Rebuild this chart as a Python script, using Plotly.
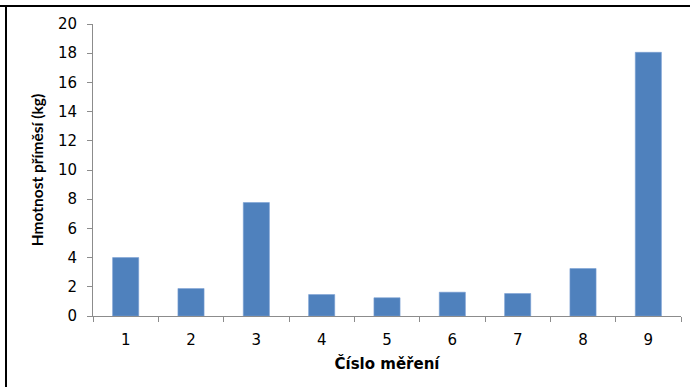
import plotly.graph_objects as go

categories = ["1", "2", "3", "4", "5", "6", "7", "8", "9"]
values = [4.0, 1.88, 7.77, 1.47, 1.25, 1.63, 1.54, 3.25, 18.06]
y_ticks = [0, 2, 4, 6, 8, 10, 12, 14, 16, 18, 20]

W, H = 690, 387
L, R, T, B = 93, 9, 24, 71
pw, ph = W - L - R, H - T - B

wide = "'DejaVu Sans', sans-serif"
narrow = "Lato, 'Open Sans', sans-serif"
axis_col = "#8c8c8c"

fig = go.Figure(go.Bar(x=categories, y=values, marker=dict(color="#4F81BD", line=dict(width=0.6, color="#7aa0d4")), width=0.4))

def px2paper_x(px):
    return (px - L) / pw

def px2paper_y(py):
    return (H - B - py) / ph

fig.update_layout(
    width=W, height=H,
    margin=dict(l=L, r=R, t=T, b=B),
    plot_bgcolor="white", paper_bgcolor="white",
    showlegend=False,
    font=dict(family=wide, size=15, color="#000000"),
    xaxis=dict(
        type="category", showgrid=False, showline=True, linecolor=axis_col, linewidth=1,
        ticks="outside", ticklen=5, tickcolor=axis_col, tickson="boundaries",
        tickfont=dict(size=15, family=wide), ticklabelstandoff=10,
        title=dict(text="<b>Číslo měření</b>", font=dict(size=15, family=wide), standoff=10),
        range=[-0.5, 8.5],
    ),
    yaxis=dict(
        range=[0, 20], tickvals=y_ticks, showgrid=False, showline=True, linecolor=axis_col, linewidth=1,
        ticks="outside", ticklen=5, tickcolor=axis_col, zeroline=False,
        tickfont=dict(size=15, family=wide), ticklabelstandoff=7,
        title=dict(text="<b>Hmotnost příměsí (kg)</b>", font=dict(size=15.5, family=narrow), standoff=10),
    ),
    shapes=[
        dict(type="line", xref="paper", yref="paper", x0=px2paper_x(0), x1=px2paper_x(W), y0=px2paper_y(6), y1=px2paper_y(6), line=dict(color="black", width=2)),
        dict(type="line", xref="paper", yref="paper", x0=px2paper_x(6), x1=px2paper_x(6), y0=px2paper_y(5), y1=px2paper_y(H + 2), line=dict(color="black", width=2)),
    ],
)

fig.write_html("out.html")
